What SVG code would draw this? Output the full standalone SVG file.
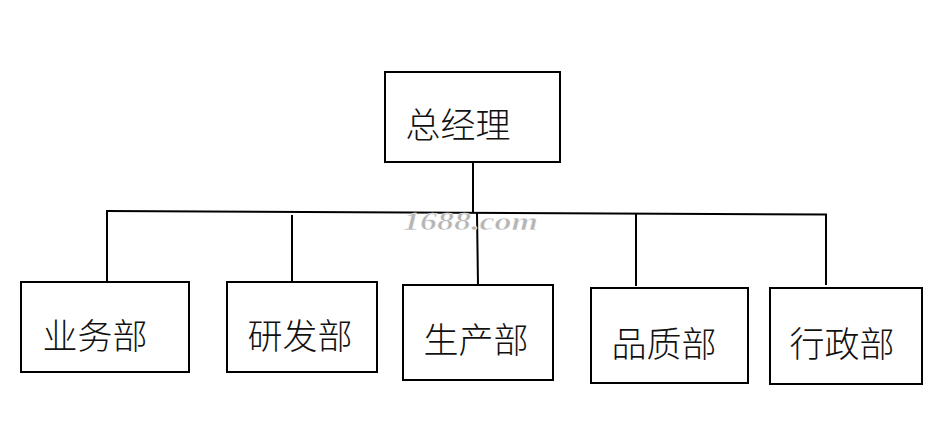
<svg xmlns="http://www.w3.org/2000/svg" width="941" height="437" viewBox="0 0 941 437">
<style>
.box{fill:#fff;stroke:#000;stroke-width:2}
.lbl{font-family:"Noto Sans CJK SC","Noto Sans CJK JP",sans-serif;font-size:35px;font-weight:300;fill:#111;text-anchor:middle;dominant-baseline:central}
.ln{fill:none;stroke:#000;stroke-width:2}
.wm{font-family:"Liberation Serif",serif;font-style:italic;font-weight:bold;font-size:25px;fill:#b5b5b5;stroke:#fff;stroke-width:0.5}
</style>
<rect width="941" height="437" fill="#fff"/>
<g id="connectors">
<line class="ln" x1="473" y1="162" x2="473" y2="212"/>
<line class="ln" x1="106" y1="211" x2="827" y2="214.5"/>
<line class="ln" x1="107" y1="211" x2="107" y2="282"/>
<line class="ln" x1="292" y1="215" x2="292" y2="283"/>
<line class="ln" x1="477" y1="213" x2="478" y2="285"/>
<line class="ln" x1="636" y1="214" x2="636" y2="286"/>
<line class="ln" x1="826" y1="214" x2="826" y2="285"/>
</g>
<text class="wm" x="403" y="230" textLength="135" lengthAdjust="spacingAndGlyphs">1688.com</text>
<g id="n0"><rect class="box" x="385" y="72" width="175" height="90"/><text class="lbl" x="458" y="122">总经理</text></g>
<g id="n1"><rect class="box" x="21" y="282" width="168" height="90"/><text class="lbl" x="95" y="333">业务部</text></g>
<g id="n2"><rect class="box" x="227" y="282" width="150" height="90"/><text class="lbl" x="300" y="333">研发部</text></g>
<g id="n3"><rect class="box" x="403" y="285" width="150" height="95"/><text class="lbl" x="476" y="337">生产部</text></g>
<g id="n4"><rect class="box" x="591" y="288" width="157" height="95"/><text class="lbl" x="664" y="341">品质部</text></g>
<g id="n5"><rect class="box" x="770" y="288" width="152" height="96"/><text class="lbl" x="842" y="341">行政部</text></g>
</svg>
